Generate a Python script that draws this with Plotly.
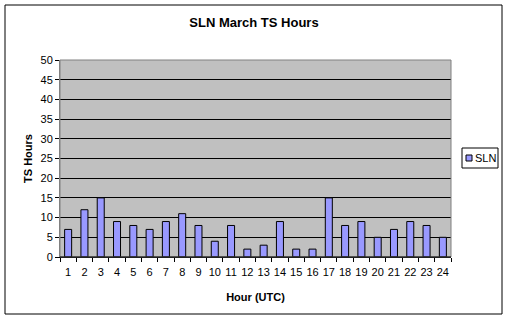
import plotly.graph_objects as go

hours = [str(h) for h in range(1, 25)]
ts_hours = [7, 12, 15, 9, 8, 7, 9, 11, 8, 4, 8, 2, 3, 9, 2, 2, 15, 8, 9, 5, 7, 9, 8, 5]
y_ticks = [0, 5, 10, 15, 20, 25, 30, 35, 40, 45, 50]
series_name = "SLN"

W, H = 508, 320
L, R, T, B = 60, 57, 60, 63
pw, ph = W - L - R, H - T - B

def px_x(x):
    return (x - L) / pw

def px_y(y):
    return (H - B - y) / ph

fig = go.Figure()
fig.add_trace(go.Bar(
    x=hours, y=ts_hours, name=series_name,
    marker=dict(color="#9999FF", line=dict(color="black", width=1)),
    showlegend=False,
))

FAM = "Liberation Sans, Arial, sans-serif"
font = dict(family=FAM, size=11, color="black")

fig.update_layout(
    width=W, height=H,
    margin=dict(l=L, r=R, t=T, b=B),
    paper_bgcolor="white",
    plot_bgcolor="#C0C0C0",
    bargap=0.57,
    font=font,
    title=dict(text="<b>SLN March TS Hours</b>", x=0.5, xanchor="center",
               y=1 - 22 / H, yanchor="middle",
               font=dict(family=FAM, size=13)),
    xaxis=dict(
        type="category", tickson="boundaries", ticks="outside", ticklen=4,
        tickcolor="black", showline=True, linecolor="black", linewidth=1,
        showgrid=False, tickangle=0, tickfont=dict(family=FAM, size=11),
        ticklabelstandoff=5,
        title=dict(text="<b>Hour (UTC)</b>", standoff=16,
                   font=dict(family=FAM, size=11)),
    ),
    yaxis=dict(
        range=[0, 50], tickvals=y_ticks, ticks="outside", ticklen=4,
        tickcolor="black", showline=True, linecolor="#808080", linewidth=1,
        showgrid=True, gridcolor="black", gridwidth=1, zeroline=False,
        tickfont=font,
        title=dict(text="<b>TS Hours</b>", standoff=5,
                   font=dict(family=FAM, size=11)),
    ),
    shapes=[
        dict(type="rect", xref="paper", yref="paper", x0=0, x1=1, y0=0, y1=1,
             line=dict(color="#808080", width=1), layer="above"),
        dict(type="line", xref="paper", yref="paper", x0=0, x1=1, y0=0, y1=0,
             line=dict(color="black", width=1), layer="above"),
        dict(type="rect", xref="paper", yref="paper",
             x0=px_x(5), x1=px_x(502), y0=px_y(5), y1=px_y(314),
             line=dict(color="black", width=1), layer="below"),
        # legend box
        dict(type="rect", xref="paper", yref="paper",
             x0=px_x(462), x1=px_x(498), y0=px_y(148), y1=px_y(168),
             line=dict(color="black", width=1), fillcolor="white", layer="above"),
        # legend symbol
        dict(type="rect", xref="paper", yref="paper",
             x0=px_x(466), x1=px_x(472), y0=px_y(155), y1=px_y(161),
             line=dict(color="black", width=1), fillcolor="#9999FF", layer="above"),
    ],
    annotations=[
        dict(text=series_name, xref="paper", yref="paper",
             x=px_x(473), y=px_y(158), xanchor="left", yanchor="middle",
             showarrow=False, font=dict(family=FAM, size=11)),
    ],
)

fig.write_html("out.html")
